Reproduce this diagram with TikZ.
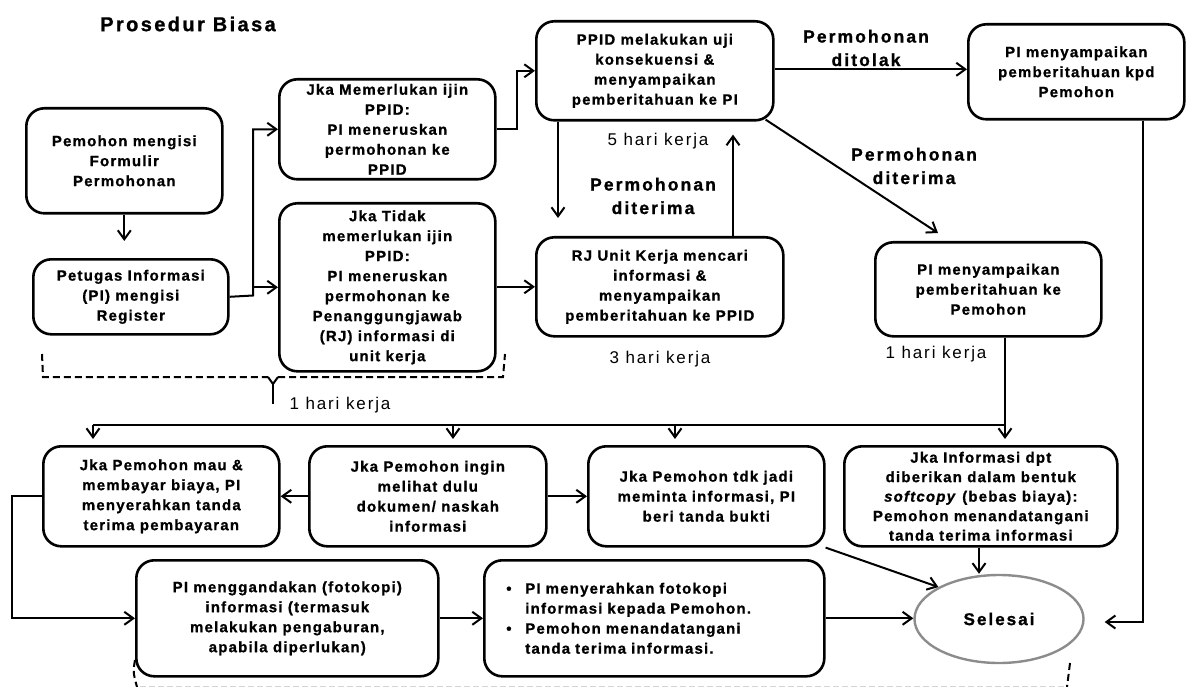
\documentclass[tikz,border=0pt]{standalone}
\usepackage{fontspec}
\setmainfont{Liberation Sans}
\newfontfamily\flowfont{Liberation Sans}[LetterSpace=8,
  BoldFont={Liberation Sans Bold}, ItalicFont={Liberation Sans Italic},
  BoldItalicFont={Liberation Sans Bold Italic}, BoldFeatures={FakeBold=0.9},
  BoldItalicFeatures={FakeBold=0.9}]
\newfontfamily\headfont{Liberation Sans Bold}[LetterSpace=12, FakeBold=1.1]
\newfontfamily\dayfont{Liberation Sans}[LetterSpace=11]
\usetikzlibrary{positioning, shapes.geometric, arrows.meta, calc}
\definecolor{ringgray}{HTML}{8C8C8C}
\definecolor{hintgray}{HTML}{D4D4D4}

\begin{document}
\begin{tikzpicture}[x=1pt, y=-1pt,
    card/.style={draw, line width=2.6pt, rounded corners=18pt, inner sep=2pt,
                 anchor=north west, align=center,
                 font=\flowfont\bfseries\fontsize{15}{20}\selectfont},
    tag/.style={align=center, font=\headfont\fontsize{17.5}{23.5}\selectfont},
    days/.style={font=\dayfont\fontsize{17}{20}\selectfont},
    arr/.style={line width=2pt, -{Straight Barb[length=9pt,width=13pt]}},
    bus/.style={line width=2.8pt},
    brace/.style={dash pattern=on 7pt off 4pt, line width=2pt}]
    \useasboundingbox (0,0) rectangle (1186,687);

    \node[font=\headfont\fontsize{20}{24}\selectfont] (judul) at (188,24)
      {Prosedur Biasa};

    % kolom kiri: pengajuan
    \node[card, minimum width=196pt, minimum height=105pt] (pemohon) at (25,107)
      {Pemohon mengisi\\ Formulir\\ Permohonan};
    \node[card, minimum width=195pt, minimum height=75pt] (register) at (32,258)
      {Petugas Informasi\\ (PI) mengisi\\ Register};
    \node[card, minimum width=216pt, minimum height=100pt] (ijin) at (278,78)
      {Jka Memerlukan ijin\\ PPID:\\ PI meneruskan\\ permohonan ke\\ PPID};
    \node[card, minimum width=216pt, minimum height=168pt] (tanpaijin) at (278,202)
      {Jka Tidak\\ memerlukan ijin\\ PPID:\\ PI meneruskan\\ permohonan ke\\
       Penanggungjawab\\ (RJ) informasi di\\ unit kerja};

    % kolom tengah dan kanan: keputusan
    \node[card, minimum width=237pt, minimum height=99pt] (uji) at (535,20)
      {PPID melakukan uji\\ konsekuensi \&\\ menyampaikan\\ pemberitahuan ke PI};
    \node[card, minimum width=216pt, minimum height=95pt] (tolak) at (967,23)
      {PI menyampaikan\\ pemberitahuan kpd\\ Pemohon};
    \node[card, minimum width=247pt, minimum height=99pt] (cari) at (535,236)
      {RJ Unit Kerja mencari\\ informasi \&\\ menyampaikan\\ pemberitahuan ke PPID};
    \node[card, minimum width=226pt, minimum height=94pt] (terima) at (874,241)
      {PI menyampaikan\\ pemberitahuan ke\\ Pemohon};

    % baris bawah: pilihan pemohon
    \node[card, minimum width=236pt, minimum height=100pt] (bayar) at (42,445)
      {Jka Pemohon mau \&\\ membayar biaya, PI\\ menyerahkan tanda\\ terima pembayaran};
    \node[card, minimum width=237pt, minimum height=100pt] (lihat) at (308,445)
      {Jka Pemohon ingin\\ melihat dulu\\ dokumen/ naskah\\ informasi};
    \node[card, minimum width=236pt, minimum height=100pt] (batal) at (587,445)
      {Jka Pemohon tdk jadi\\ meminta informasi, PI\\ beri tanda bukti};
    \node[card, minimum width=273pt, minimum height=100pt,
          font=\flowfont\bfseries\fontsize{15}{19.5}\selectfont] (softcopy) at (843,445)
      {Jka Informasi dpt\\ diberikan dalam bentuk\\ \textit{softcopy} (bebas biaya):\\
       Pemohon menandatangani\\ tanda terima informasi};
    \node[card, minimum width=302pt, minimum height=116pt] (fotokopi) at (135,559)
      {PI menggandakan (fotokopi)\\ informasi (termasuk\\ melakukan pengaburan,\\
       apabila diperlukan)};
    \node[card, align=left, text width=296pt, inner xsep=22pt, minimum height=116pt]
      (serah) at (483,559)
      {\makebox[19pt][l]{\textbullet}PI menyerahkan fotokopi\\
       \hspace*{19pt}informasi kepada Pemohon.\\
       \makebox[19pt][l]{\textbullet}Pemohon menandatangani\\
       \hspace*{19pt}tanda terima informasi.};
    \node[ellipse, draw=ringgray, line width=2.4pt, minimum width=169pt, minimum height=88pt,
          font=\headfont\fontsize{17}{20}\selectfont] (selesai) at (999,619)
      {Selesai};

    % label
    \node[tag] (ditolak) at (866,48) {Permohonan\\ ditolak};
    \node[tag] (diterimaA) at (653,196) {Permohonan\\ diterima};
    \node[tag] (diterimaB) at (914,166) {Permohonan\\ diterima};
    \node[days] (hari5) at (658,141) {5 hari kerja};
    \node[days] (hari3) at (660,359) {3 hari kerja};
    \node[days] (hari1a) at (340,405) {1 hari kerja};
    \node[days] (hari1b) at (936,354) {1 hari kerja};

    % alur
    \draw[arr, shorten >=17pt] (pemohon) -- (pemohon |- register.north);
    \coordinate (cabang) at (253,295.5);
    \draw[arr] (register.east) -- (cabang) |- (ijin.west);
    \draw[arr] (cabang) |- (tanpaijin.west);
    \draw[arr] (ijin.east) -- ++(20,0) |- (uji.west);
    \draw[arr] ([yshift=1.5pt]uji.east) -- ([yshift=1.5pt]uji.east -| tolak.west);
    \draw[arr, shorten >=18pt] ([xshift=23pt]uji.south west) -- ([xshift=23pt]cari.north west);
    \draw[arr, shorten >=13pt] ([xshift=198pt]cari.north west) -- ([xshift=198pt]uji.south west);
    \draw[arr] (tanpaijin.east |- cari.west) -- (cari.west);
    \draw[arr] ([shift={(-9,-2)}]uji.south east) -- ([xshift=64pt, yshift=8pt]terima.north west);
    \draw[arr, shorten >=20pt] ([xshift=176pt]tolak.south west) |- ([yshift=-3pt]selesai.east);

    \draw[bus] ([xshift=131pt]terima.south west) |- ([xshift=51pt, yshift=20pt]bayar.north west);
    \foreach \nm/\dx in {bayar/51, lihat/145, batal/88, softcopy/162}
      \draw[arr, shorten >=6pt] ([xshift=\dx pt, yshift=20pt]\nm.north west)
        -- ([xshift=\dx pt]\nm.north west);

    \draw[arr] (lihat.west) -- (bayar.east);
    \draw[arr] (lihat.east) -- (batal.west);
    \draw[arr] (bayar.west) -- ++(-30,0) |- (fotokopi.west);
    \draw[arr] (fotokopi.east) -- (serah.west);
    \draw[arr] (serah.east) -- (serah.east -| selesai.west);
    \draw[arr] (batal.south east) -- (selesai.north west);
    \draw[arr] ([xshift=136pt]softcopy.south west) -- ([xshift=136pt]softcopy.south west |- selesai.north);

    % kurung waktu
    \draw[brace] (42,354) -- (43,377) -- (268,377);
    \draw[brace] (278,377) -- (503,377) -- (505,354);
    \draw[line width=2pt] (268,377) -- (273,384) -- (278,377);
    \draw[line width=2.4pt] (273,384) -- (273,404);
    \draw[brace] (135,660) .. controls (133,672) .. (137,687);
    \draw[brace] (1070,663) -- (1067,687);
    \draw[dash pattern=on 6pt off 3pt, hintgray, line width=1pt] (140,686) -- (1064,686);
  \end{tikzpicture}
\end{document}
